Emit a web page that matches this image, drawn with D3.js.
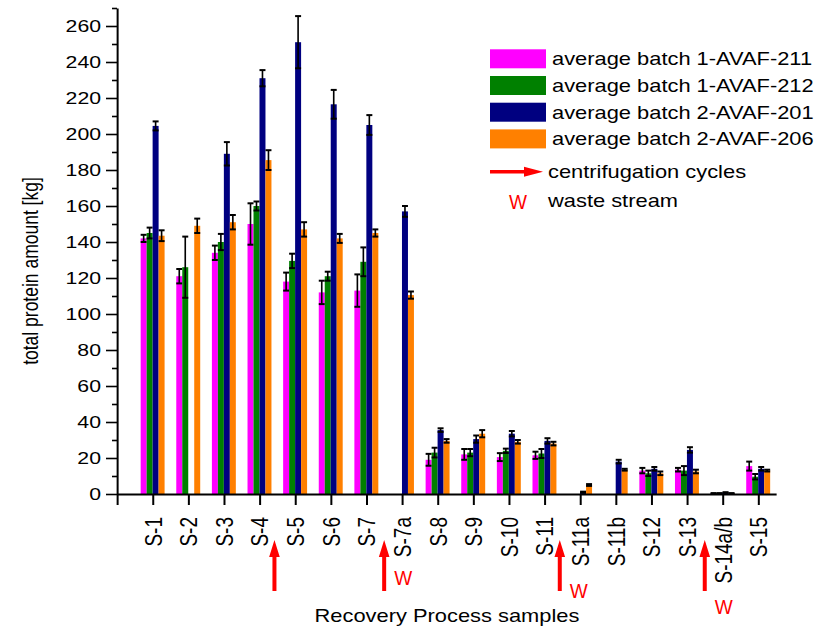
<!DOCTYPE html>
<html>
<head>
<meta charset="utf-8">
<script src="https://cdn.jsdelivr.net/npm/d3@7"></script>
<style>
  body { margin: 0; background: #fff; }
  text { font-family: "Liberation Sans", Arial, sans-serif; fill: #000; }
</style>
</head>
<body>
<div id="chart"></div>
<script>
// Sample names along the x axis
const categories = ["S-1", "S-2", "S-3", "S-4", "S-5", "S-6", "S-7", "S-7a", "S-8", "S-9",
    "S-10", "S-11", "S-11a", "S-11b", "S-12", "S-13", "S-14a/b", "S-15"];

// Averages and error bars per batch (null = not measured)
const avaf211 = [142, 121, 134, 150, 118, 112, 113, null, 19, 22, 20.5, 21.5, null, null, 13, 13.5, 0.3, 15.5];
const err211  = [2, 4, 4, 11.5, 5, 6.5, 9, null, 3.3, 3, 2.2, 2, null, null, 1.5, 1, 0.2, 2.5];
const avaf212 = [145, 126, 140, 160, 129.5, 121, 129, null, 23, 23, 24, 22.5, null, null, 11.5, 13, 0.3, 9.6];
const err212  = [3, 17, 4.5, 2.5, 4, 2.5, 8, null, 2.7, 2, 1.2, 2.5, null, null, 1.5, 2.5, 0.2, 1.5];
const avaf201 = [204.5, null, 189, 231, 251, 216.5, 205, 157, 35.5, 30.5, 33.5, 29.5, 1, 18, 14, 24.5, 0.8, 14];
const err201  = [2.5, null, 6.5, 4.5, 14.5, 8, 5.5, 3, 1, 2, 1.5, 1.5, 0.3, 1, 1, 1.5, 0.2, 1];
const avaf206 = [143.5, 149, 151, 185.5, 147, 142, 145, 110.5, 29.5, 33.5, 29, 28, 5, 13.5, 11.5, 12.5, 0.3, 13];
const err206  = [3, 4, 4, 5.5, 4, 2.5, 2, 2, 1, 2, 1, 1, 0.5, 0.5, 1, 1, 0.2, 0.5];

const seriesNames = ["average batch 1-AVAF-211", "average batch 1-AVAF-212",
    "average batch 2-AVAF-201", "average batch 2-AVAF-206"];
const seriesColors = ["#ff00ff", "#008000", "#000080", "#ff8000"];

const yTicks = d3.range(0, 261, 20);

// centrifugation arrows (position on the category axis) and waste-stream marks
const arrows = [
    { at: 4.42, waste: false },
    { at: 7.5,  waste: true, wy: 585 },
    { at: 12.43, waste: true, wy: 598 },
    { at: 16.5, waste: true, wy: 614 }
];

const series = [
    { values: avaf211, errors: err211 },
    { values: avaf212, errors: err212 },
    { values: avaf201, errors: err201 },
    { values: avaf206, errors: err206 }
];

// The original picture is stretched horizontally; draw in a narrower box and let the viewBox stretch it
const W = 819, H = 630, SX = 1.25;
const svg = d3.select("#chart").append("svg")
    .attr("width", W).attr("height", H)
    .attr("viewBox", `0 0 ${W / SX} ${H}`)
    .attr("preserveAspectRatio", "none");

const x = d3.scaleLinear().domain([0, 18.5]).range([117 / SX, 776 / SX]);
const y = d3.scaleLinear().domain([0, 270]).range([494, 8]);
const barW = 0.168; // in category units

// Bars
series.forEach((s, k) => {
    const g = svg.append("g");
    const pts = s.values.map((v, i) => ({ i: i + 1, v: v, e: s.errors[i] })).filter(d => d.v != null);
    g.selectAll("rect").data(pts).enter().append("rect")
        .attr("x", d => x(d.i - 2 * barW + k * barW))
        .attr("width", x(barW) - x(0))
        .attr("y", d => y(d.v))
        .attr("height", d => y(0) - y(d.v))
        .attr("fill", seriesColors[k]);

    // error bars
    const eb = g.selectAll("g.err").data(pts).enter().append("g").attr("class", "err");
    const cx = d => x(d.i - 2 * barW + (k + 0.5) * barW);
    const capHalf = (x(barW) - x(0)) / 2;
    eb.append("line")
        .attr("x1", cx).attr("x2", cx)
        .attr("y1", d => y(d.v + d.e)).attr("y2", d => y(Math.max(0, d.v - d.e)))
        .attr("stroke", "#000").attr("stroke-width", 1.3);
    [1, -1].forEach(sign => {
        eb.append("line")
            .attr("x1", d => cx(d) - capHalf).attr("x2", d => cx(d) + capHalf)
            .attr("y1", d => y(Math.max(0, d.v + sign * d.e)))
            .attr("y2", d => y(Math.max(0, d.v + sign * d.e)))
            .attr("stroke", "#000").attr("stroke-width", 2);
    });
});

// Y axis (major + minor ticks)
const yMinor = svg.append("g").attr("transform", `translate(${117 / SX},0)`)
    .call(d3.axisLeft(y).tickValues(d3.range(10, 271, 20)).tickSize(5 / SX).tickFormat(""));
const yAxis = svg.append("g").attr("transform", `translate(${117 / SX},0)`)
    .call(d3.axisLeft(y).tickValues(yTicks).tickSize(11 / SX).tickSizeOuter(0).tickPadding(5 / SX));
yAxis.selectAll("text").style("font-size", "17px");
[yAxis, yMinor].forEach(a => {
    a.select(".domain").attr("stroke", "#000").attr("stroke-width", 1.6);
    a.selectAll(".tick line").attr("stroke", "#000").attr("stroke-width", 1.6);
});
yMinor.select(".domain").remove();

// X axis
const xAxis = svg.append("g").attr("transform", `translate(0,${y(0)})`)
    .call(d3.axisBottom(x).tickValues(d3.range(0, 19)).tickSize(11).tickSizeOuter(0)
        .tickFormat(i => categories[i - 1] || ""));
xAxis.select(".domain").attr("stroke", "#000").attr("stroke-width", 1.8);
xAxis.selectAll(".tick line").attr("stroke", "#000").attr("stroke-width", 1.6);
xAxis.selectAll("text")
    .attr("transform", "rotate(-90)")
    .attr("x", -23).attr("y", 0).attr("dy", "0.35em")
    .style("text-anchor", "end")
    .style("font-size", "19px");

// Axis titles
svg.append("text")
    .attr("transform", `translate(${38 / SX},271) rotate(-90)`)
    .style("text-anchor", "middle").style("font-size", "17.5px")
    .text("total protein amount [kg]");
svg.append("text")
    .attr("x", 447 / SX).attr("y", 622)
    .style("text-anchor", "middle").style("font-size", "17.5px")
    .text("Recovery Process samples");

// red "W" marks are narrower than the stretched text around them
function wasteMark(parent, cx, baseline) {
    parent.append("text")
        .attr("transform", `translate(${cx},${baseline}) scale(${0.93 / SX},1)`)
        .style("text-anchor", "middle").style("font-size", "20.5px").style("fill", "#ff0000")
        .text("W");
}

// Red arrows under the axis
function upArrow(cx, tip, tail) {
    const hw = 5.3 / SX, sw = 2 / SX, hl = 17;
    return `M${cx},${tip} L${cx + hw},${tip + hl} L${cx + sw},${tip + hl} L${cx + sw},${tail}
            L${cx - sw},${tail} L${cx - sw},${tip + hl} L${cx - hw},${tip + hl} Z`;
}
arrows.forEach(a => {
    svg.append("path").attr("d", upArrow(x(a.at), 540, 591)).attr("fill", "#ff0000");
    if (a.waste) wasteMark(svg, x(a.at) + 19 / SX, a.wy);
});

// Legend
const legend = svg.append("g");
seriesNames.forEach((name, k) => {
    const top = 49.3 + k * 26.7;
    legend.append("rect")
        .attr("x", 490 / SX).attr("y", top)
        .attr("width", 56 / SX).attr("height", 19)
        .attr("fill", seriesColors[k]);
    legend.append("text")
        .attr("x", 552 / SX).attr("y", top + 16)
        .style("font-size", "17.5px")
        .text(name);
});
// arrow entry
const ay = 171.7;
legend.append("path")
    .attr("d", `M${490 / SX},${ay - 1.7} L${524 / SX},${ay - 1.7} L${524 / SX},${ay - 5} L${543 / SX},${ay}
                L${524 / SX},${ay + 5} L${524 / SX},${ay + 1.7} L${490 / SX},${ay + 1.7} Z`)
    .attr("fill", "#ff0000");
legend.append("text")
    .attr("x", 548 / SX).attr("y", 178.3)
    .style("font-size", "17.5px")
    .text("centrifugation cycles");
wasteMark(legend, 518 / SX, 209);
legend.append("text")
    .attr("x", 548 / SX).attr("y", 206.7)
    .style("font-size", "17.5px")
    .text("waste stream");
</script>
</body>
</html>
